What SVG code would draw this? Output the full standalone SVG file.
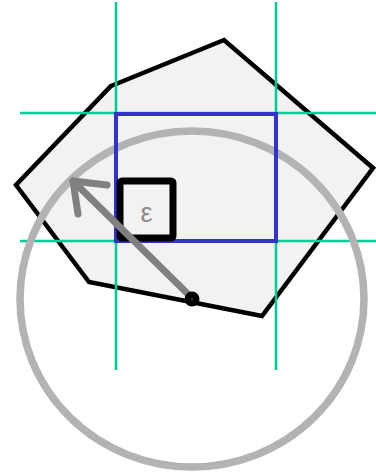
<svg xmlns="http://www.w3.org/2000/svg" width="376" height="474" viewBox="0 0 376 474">
<style>
.grid{stroke:#00cc99;stroke-width:2.5;fill:none}
.arrow{stroke:#808080;stroke-width:7;fill:none;stroke-linecap:round;stroke-linejoin:round}
</style>
<rect width="376" height="474" fill="#fff"/>
<g id="polygon">
<polygon points="111,86 224,40 373,168 262,316 89,282 16,185" fill="#f2f2f2" stroke="#000" stroke-width="4.5" stroke-linejoin="miter"/>
</g>
<g id="grid">
<line class="grid" x1="116" y1="2" x2="116" y2="370"/>
<line class="grid" x1="276" y1="2" x2="276" y2="370"/>
<line class="grid" x1="20" y1="113" x2="376" y2="113"/>
<line class="grid" x1="20" y1="241" x2="376" y2="241"/>
</g>
<g id="circle">
<ellipse cx="192" cy="299" rx="172" ry="168" fill="none" stroke="#b3b3b3" stroke-width="7.5"/>
</g>
<g id="box">
<rect x="116" y="114" width="160" height="127" fill="none" stroke="#3333cc" stroke-width="4"/>
</g>
<g id="epsilon">
<rect x="120" y="181" width="53" height="57" rx="2" fill="#f2f2f2" stroke="#000" stroke-width="7"/>
<text x="146.5" y="222" font-family="Liberation Sans, sans-serif" font-size="27" fill="#8c8c8c" text-anchor="middle">ε</text>
</g>
<g id="connectors">
<path class="arrow" d="M192,298 L73,181"/>
<path class="arrow" d="M107,185 L73,181 L78,214"/>
<circle cx="192" cy="299" r="7.5" fill="#000"/>
<circle cx="192" cy="299" r="0.8" fill="#00cc99"/>
</g>
</svg>
